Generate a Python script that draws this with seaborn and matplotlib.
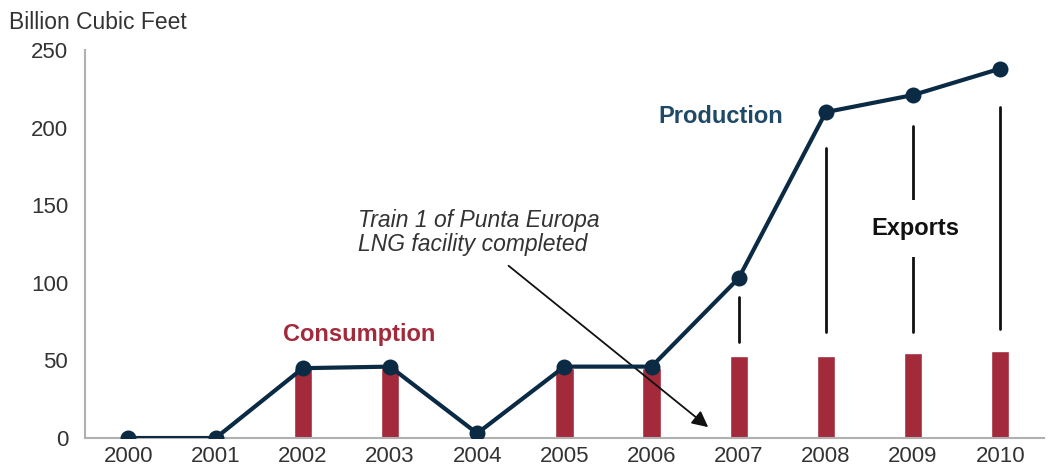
import pandas as pd
import matplotlib
matplotlib.use("Agg")
import matplotlib.pyplot as plt
import seaborn as sns

years = ["2000", "2001", "2002", "2003", "2004", "2005", "2006", "2007", "2008", "2009", "2010"]
production = [0, 0, 45, 46, 3, 46, 46, 103, 210, 221, 238]
consumption = [0, 0, 45, 45, 0, 45, 45, 53, 53, 55, 56]
# export marker lines (low, high) drawn between consumption bars and production
export_years = ["2007", "2008", "2009", "2010"]
export_low = [62, 68, 68, 70]
export_high = [91, 187, 201, 213]

line_color = "#0B2A44"
bar_color = "#A32A3B"

df = pd.DataFrame({"Year": years, "Production": production, "Consumption": consumption})

sns.set_style("white")
plt.rcParams["font.family"] = ["Liberation Sans", "DejaVu Sans"]

fig = plt.figure(figsize=(10.48, 4.72), dpi=100)
ax = fig.add_axes([0.081, 0.072, 0.915, 0.822])

sns.barplot(data=df, x="Year", y="Consumption", color=bar_color, width=0.21,
            saturation=1, ax=ax, zorder=2)

xpos = {y: i for i, y in enumerate(years)}
for yr, lo, hi in zip(export_years, export_low, export_high):
    ax.plot([xpos[yr], xpos[yr]], [lo, hi], color="#111111", lw=2, zorder=3)

sns.lineplot(x=list(range(len(years))), y=production, ax=ax, color=line_color, lw=3,
             marker="o", markersize=11.5, markeredgewidth=0, zorder=4)

ax.set_xlim(-0.5, len(years) - 0.5)
ax.set_ylim(0, 250)
ax.set_yticks([0, 50, 100, 150, 200, 250])
ax.set_xlabel("")
ax.set_ylabel("")

for s in ["top", "right"]:
    ax.spines[s].set_visible(False)
for s in ["left", "bottom"]:
    ax.spines[s].set_color("#B0B0B0")
    ax.spines[s].set_linewidth(1.5)

ax.set_xticks([i + 0.5 for i in range(len(years))], minor=True)
ax.tick_params(axis="x", which="major", length=0, labelsize=16, colors="#333333", pad=6)
ax.tick_params(axis="x", which="minor", length=5, color="#B0B0B0", width=1.2)
ax.tick_params(axis="y", length=6, color="#B0B0B0", width=1.2, labelsize=16, pad=6)
for lbl in ax.get_yticklabels():
    lbl.set_color("#333333")

fig.text(0.009, 0.953, "Billion Cubic Feet", fontsize=16.5, color="#333333", va="center")

ax.text(6.08, 207, "Production", fontsize=17, fontweight="bold", color="#1E4A68",
        va="center")
ax.text(1.77, 67, "Consumption", fontsize=17, fontweight="bold", color=bar_color,
        va="center")
ax.text(9.03, 135, "Exports", fontsize=17, fontweight="bold", color="#111111",
        ha="center", va="center",
        bbox=dict(facecolor="white", edgecolor="none", pad=12))

ax.text(2.63, 132.5, "Train 1 of Punta Europa\nLNG facility completed",
        fontsize=16.5, style="italic", color="#333333", ha="left", va="center",
        linespacing=1.05)
ax.annotate("", xy=(6.65, 7), xytext=(4.36, 111),
            arrowprops=dict(arrowstyle="-|>", color="#111111", lw=1.3,
                            mutation_scale=24, shrinkA=0, shrinkB=0))

fig.savefig("out.png", dpi=100)
